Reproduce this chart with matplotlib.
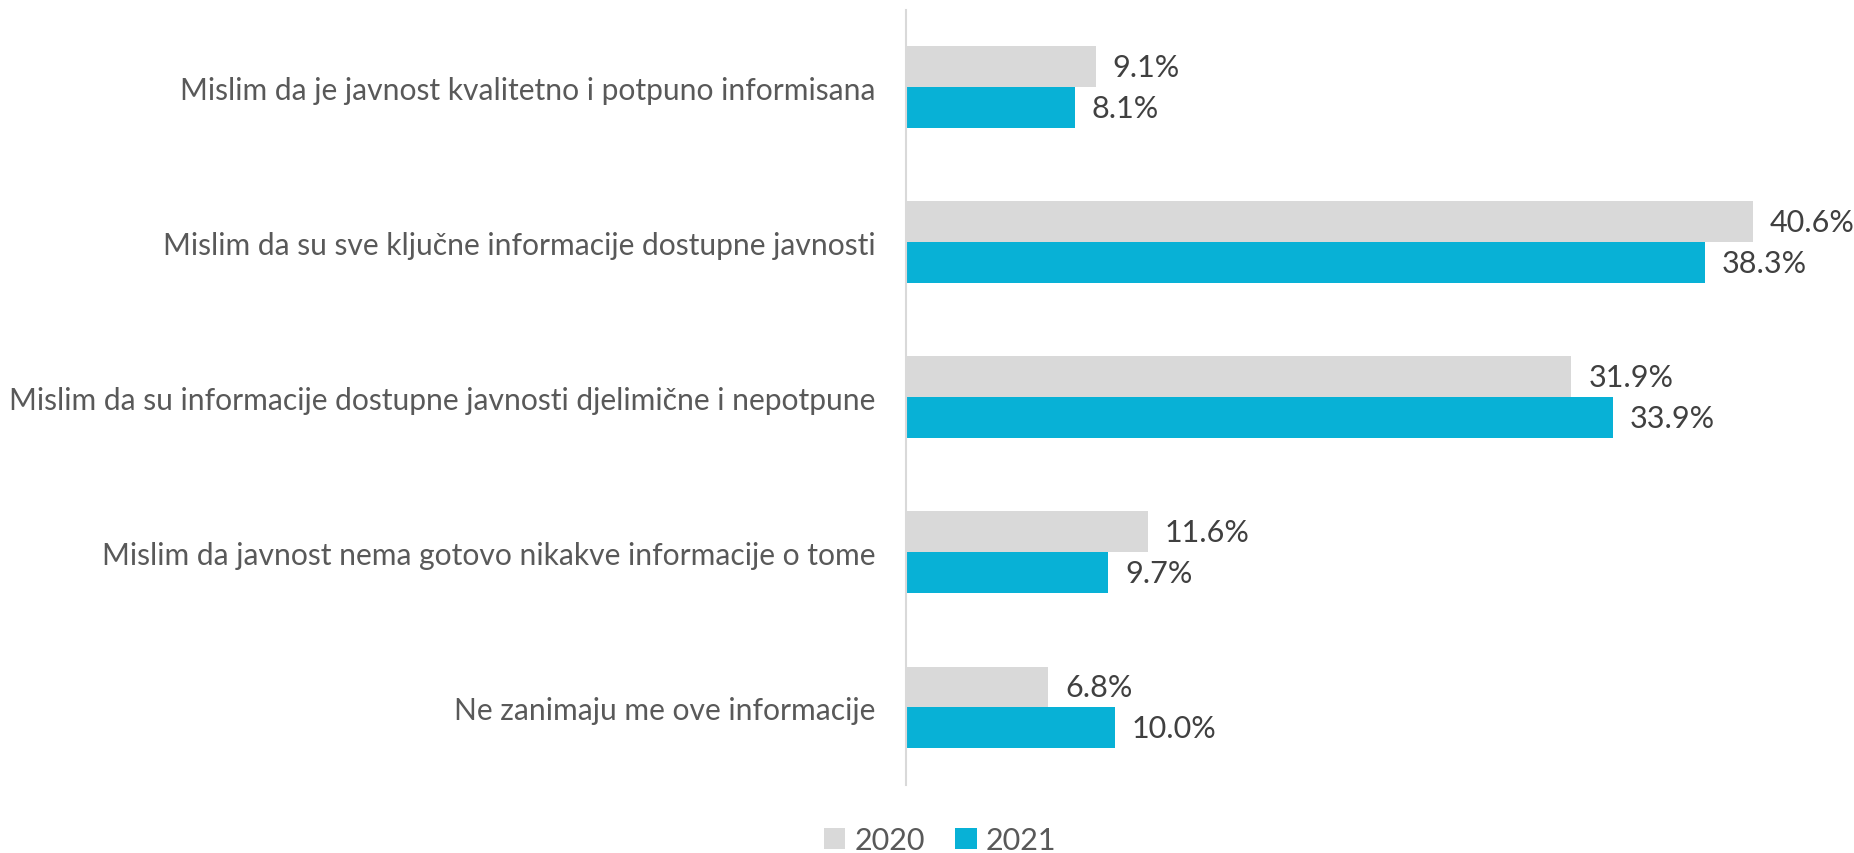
import numpy as np
import matplotlib.pyplot as plt

categories = [
    'Mislim da je javnost kvalitetno i potpuno informisana',
    'Mislim da su sve ključne informacije dostupne javnosti',
    'Mislim da su informacije dostupne javnosti djelimične i nepotpune',
    'Mislim da javnost nema gotovo nikakve informacije o tome',
    'Ne zanimaju me ove informacije',
]
years = ['2020', '2021']
vals_2020 = [9.1, 40.6, 31.9, 11.6, 6.8]
vals_2021 = [8.1, 38.3, 33.9, 9.7, 10.0]

plt.rcParams['font.family'] = ['Lato', 'DejaVu Sans']

fig = plt.figure(figsize=(18.54, 8.54), dpi=100)
ax = fig.add_axes([0.4887, 0.0796, 0.495, 0.908])

y = np.arange(len(categories))
h = 0.264
b1 = ax.barh(y - h / 2, vals_2020, height=h, color='#D9D9D9', label=years[0])
b2 = ax.barh(y + h / 2, vals_2021, height=h, color='#08B1D6', label=years[1])

# value labels at the end of each bar
for bars, vals in [(b1, vals_2020), (b2, vals_2021)]:
    for bar, v in zip(bars, vals):
        ax.annotate(f'{v:.1f}%', (bar.get_width(), bar.get_y() + bar.get_height() / 2),
                    xytext=(17, 0), textcoords='offset pixels', va='center', ha='left',
                    fontsize=22, color='#404040')

ax.set_xlim(0, 44)
ax.set_ylim(len(categories) - 0.5, -0.5)
ax.set_yticks(y)
ax.set_yticklabels(categories, fontsize=21.6, color='#595959')
ax.tick_params(axis='y', length=0, pad=22)
ax.set_xticks([])
for s in ['top', 'right', 'bottom']:
    ax.spines[s].set_visible(False)
ax.spines['left'].set_color('#D9D9D9')
ax.spines['left'].set_linewidth(1.5)

fig.legend(handles=[b1, b2], labels=years, loc='center', bbox_to_anchor=(0.507, 0.015),
           ncol=2, frameon=False, fontsize=22, labelcolor='#595959',
           handlelength=0.7, handleheight=0.7, handletextpad=0.3, columnspacing=1.0)

fig.savefig('out.png', dpi=100)
